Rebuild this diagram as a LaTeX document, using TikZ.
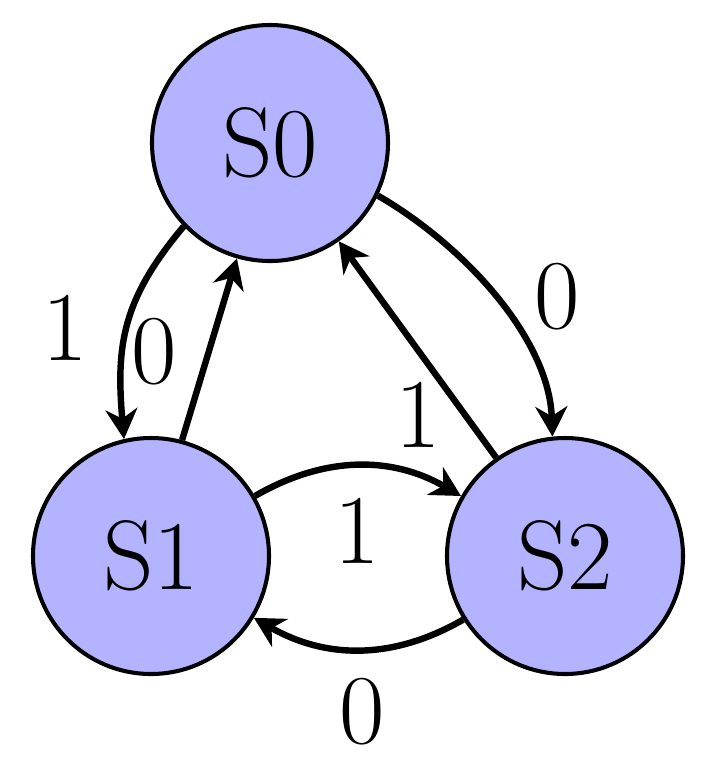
\documentclass[tikz,border=0pt]{standalone}
\usetikzlibrary{arrows.meta}
\begin{document}
\begin{tikzpicture}[x=0.21pt,y=-0.21pt,
  state/.style={circle,draw=black,line width=0.85pt,fill={rgb,255:red,179;green,179;blue,255},minimum size=236*0.21pt,inner sep=0pt,font=\huge},
  edge/.style={line width=1.35pt,-{Stealth[length=6.3pt,width=6.7pt,inset=2pt]}},
  lbl/.style={font=\huge,inner sep=0pt}]
\useasboundingbox (0,0) rectangle (705,774);
\node[state] (S0) at (270,143) {S0};
\node[state] (S1) at (151,556) {S1};
\node[state] (S2) at (565,556) {S2};
\draw[edge] (S0.224) to[out=230,in=95,looseness=1.1] (S1.103);
\draw[edge] (S1.75) -- (S0.254);
\draw[edge] (S0.-26) to[out=-30,in=92,looseness=0.85] (S2.96);
\draw[edge] (S2.125) -- (S0.-55);
\draw[edge] (S1.30) to[out=30,in=150] (S2.150);
\draw[edge] (S2.212) to[out=210,in=330] (S1.-31);
\node[lbl] (l1) at (65,328) {1};
\node[lbl] (l2) at (154,352) {0};
\node[lbl] (l3) at (557,297) {0};
\node[lbl] (l4) at (418,415) {1};
\node[lbl] (l5) at (357,531) {1};
\node[lbl] (l6) at (362,712) {0};
\end{tikzpicture}
\end{document}
